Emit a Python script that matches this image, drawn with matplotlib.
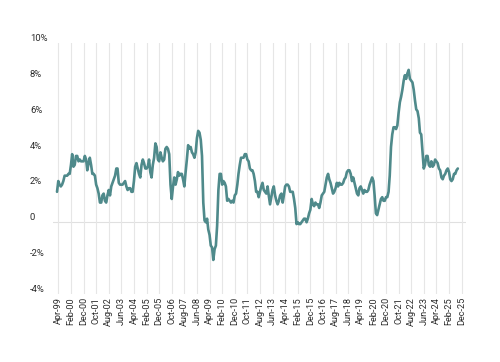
import matplotlib
matplotlib.use("Agg")
import matplotlib.pyplot as plt
import matplotlib.dates as mdates
import pandas as pd

plt.rcParams['font.family'] = ['Roboto', 'DejaVu Sans']

# monthly year-on-year inflation, Mar 1999 .. Sep 2025 (%)
values = [
    1.7, 2.3, 2.1, 2.0, 2.1, 2.3, 2.6, 2.6, 2.6, 2.7,                   # 1999
    2.7, 3.2, 3.8, 3.1, 3.2, 3.7, 3.7, 3.4, 3.5, 3.4, 3.4, 3.4,         # 2000
    3.7, 3.5, 2.9, 3.3, 3.6, 3.2, 2.7, 2.7, 2.6, 2.1, 1.9, 1.6,         # 2001
    1.1, 1.1, 1.5, 1.6, 1.2, 1.1, 1.5, 1.8, 1.5, 2.0, 2.2, 2.4,         # 2002
    2.6, 3.0, 3.0, 2.2, 2.1, 2.1, 2.1, 2.2, 2.3, 2.0, 1.8, 1.9,         # 2003
    1.9, 1.7, 1.7, 2.3, 3.1, 3.3, 3.0, 2.7, 2.5, 3.2, 3.5, 3.3,         # 2004
    3.0, 3.0, 3.1, 3.5, 2.8, 2.5, 3.2, 3.6, 4.4, 4.2, 3.5, 3.4,         # 2005
    3.9, 3.6, 3.4, 3.5, 4.1, 4.2, 4.1, 3.8, 2.1, 1.3, 2.0, 2.5,         # 2006
    2.1, 2.4, 2.8, 2.6, 2.7, 2.7, 2.4, 2.0, 2.8, 3.5, 4.3, 4.1,         # 2007
    4.2, 3.9, 3.8, 3.6, 3.9, 4.7, 5.1, 5.0, 4.6, 3.7, 1.1, 0.1,         # 2008
    0.0, 0.2, -0.4, -0.7, -1.3, -1.4, -2.1, -1.5, -1.3, -0.2, 1.8, 2.7, # 2009
    2.7, 2.1, 2.3, 2.2, 2.0, 1.2, 1.3, 1.2, 1.1, 1.2, 1.1, 1.5,         # 2010
    1.6, 2.1, 2.7, 3.2, 3.6, 3.6, 3.6, 3.8, 3.8, 3.5, 3.4, 3.0,         # 2011
    2.9, 2.9, 2.7, 2.3, 1.7, 1.7, 1.4, 1.7, 2.0, 2.2, 1.8, 1.7,         # 2012
    1.6, 2.0, 1.5, 1.0, 1.4, 1.8, 2.0, 1.5, 1.2, 1.0, 1.2, 1.5,         # 2013
    1.6, 1.1, 1.5, 2.0, 2.1, 2.1, 2.0, 1.7, 1.7, 1.7, 1.3, 0.8,         # 2014
    -0.1, 0.0, -0.1, -0.1, 0.0, 0.1, 0.2, 0.2, 0.0, 0.2, 0.5, 0.7,      # 2015
    1.3, 1.0, 0.9, 1.1, 1.0, 1.0, 0.8, 1.1, 1.5, 1.6, 1.7, 2.1,         # 2016
    2.5, 2.7, 2.4, 2.2, 1.9, 1.6, 1.7, 1.9, 2.2, 2.0, 2.2, 2.1,         # 2017
    2.1, 2.2, 2.4, 2.5, 2.8, 2.9, 2.9, 2.7, 2.3, 2.5, 2.2, 1.9,         # 2018
    1.6, 1.5, 1.9, 2.0, 1.8, 1.6, 1.8, 1.7, 1.7, 1.8, 2.1, 2.3,         # 2019
    2.5, 2.3, 1.5, 0.5, 0.4, 0.7, 1.0, 1.3, 1.4, 1.2, 1.2, 1.4,         # 2020
    1.4, 1.7, 2.6, 4.2, 4.9, 5.3, 5.3, 5.2, 5.4, 6.1, 6.7, 7.0,         # 2021
    7.4, 7.9, 8.2, 8.0, 8.3, 8.5, 8.0, 7.9, 7.8, 7.4, 6.8, 6.3,         # 2022
    6.2, 5.8, 5.0, 4.9, 4.0, 3.0, 3.2, 3.7, 3.7, 3.2, 3.1, 3.4,         # 2023
    3.1, 3.2, 3.5, 3.4, 3.3, 3.0, 2.9, 2.5, 2.4, 2.6, 2.7, 2.9,         # 2024
    3.0, 2.8, 2.4, 2.3, 2.4, 2.7, 2.7, 2.9, 3.0,                        # 2025
]
dates = pd.date_range("1999-03-01", periods=len(values), freq="MS")

tick_dates = pd.date_range("1999-04-01", "2025-12-01", freq="10MS")
tick_labels = [d.strftime("%b-%y") for d in tick_dates]

y_ticks = [-4, -2, 0, 2, 4, 6, 8, 10]
y_labels = ["-4%", "-2%", "0", "2%", "4%", "6%", "8%", "10%"]

W, H = 500, 362
fig = plt.figure(figsize=(W / 100, H / 100), dpi=100)
# axes box in pixels: x 53..466, y 43..294
ax = fig.add_axes([53 / W, 1 - 294 / H, (466 - 53) / W, (294 - 43) / H])

# place first/last tick at measured pixel positions
t0 = mdates.date2num(tick_dates[0])
t1 = mdates.date2num(tick_dates[-1])
scale = (461.6 - 58.3) / (t1 - t0)
ax.set_xlim(t0 - (58.3 - 53) / scale, t1 + (466 - 461.6) / scale)
ax.set_ylim(-4, 10)

ax.plot(dates, values, color="#4f8a8b", lw=1.9, solid_joinstyle="round",
        solid_capstyle="round", zorder=3)

ax.set_xticks(tick_dates)
ax.set_xticklabels(tick_labels, rotation=90, fontsize=6.6, color="#2b2b2b")
ax.grid(axis="x", color="#e6e6e6", lw=0.8)
ax.axhline(0, color="#e0e0e0", lw=0.8, zorder=1)

ax.set_yticks(y_ticks)
ax.set_yticklabels(y_labels, fontsize=6.8, color="#2b2b2b")
for lab in ax.get_yticklabels():
    lab.set_horizontalalignment("left")
    lab.set_verticalalignment("bottom")
ax.tick_params(axis="y", length=0, pad=23 * 72 / 100)
ax.tick_params(axis="x", length=0, pad=2.2)

for s in ax.spines.values():
    s.set_visible(False)

fig.savefig("out.png", dpi=100)
